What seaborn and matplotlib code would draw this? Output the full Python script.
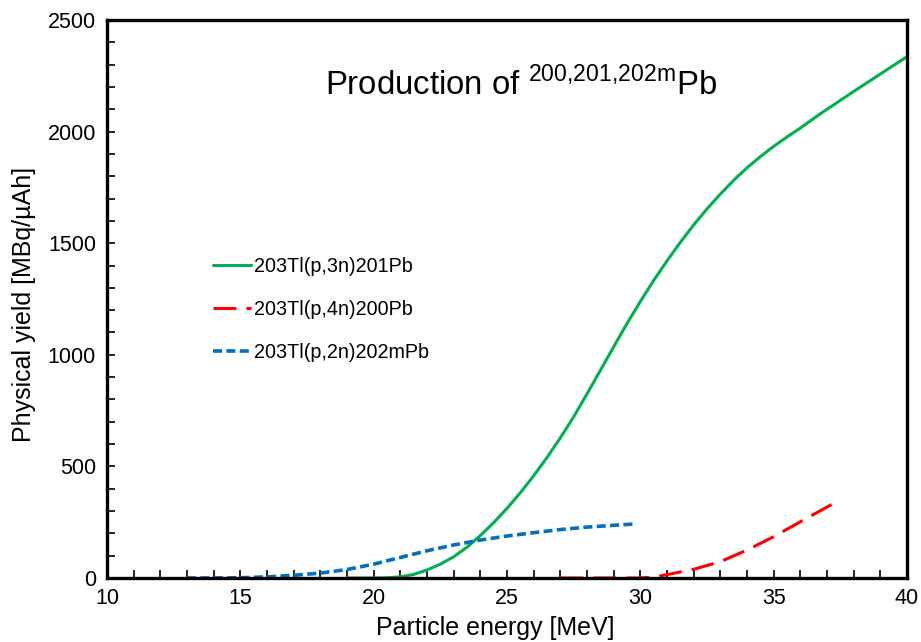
import pandas as pd
import matplotlib.pyplot as plt
import seaborn as sns

# Excitation-function yields
e_201 = [19, 19.5, 20, 20.5, 21, 21.5, 22, 22.5, 23, 23.5, 24, 24.5, 25, 25.5, 26, 26.5, 27, 27.5,
         28, 28.5, 29, 29.5, 30, 30.5, 31, 31.5, 32, 32.5, 33, 33.5, 34, 34.5, 35, 35.5, 36, 36.75,
         37, 38, 39, 40]
y_201 = [0, 0, 0, 1, 5, 16, 36, 62, 95, 138, 190, 248, 312, 382, 458, 540, 628, 722,
         825, 930, 1036, 1140, 1239, 1333, 1421, 1504, 1582, 1654, 1720, 1782, 1838, 1888, 1934, 1976, 2016, 2080,
         2100, 2180, 2258, 2336]

e_200 = [27, 28, 29, 30, 30.5, 31, 32, 33, 34, 35, 36, 37.2]
y_200 = [0, 0, 0, 0, 4, 15, 39, 73, 125, 185, 252, 331]

e_202m = [13, 14, 15, 16, 17, 18, 19, 20, 21, 22, 23, 24, 25, 26, 27, 28, 29, 29.8]
y_202m = [0, 0, 1, 5, 12, 22, 38, 62, 92, 122, 148, 170, 188, 203, 217, 228, 236, 242]

labels = ['203Tl(p,3n)201Pb', '203Tl(p,4n)200Pb', '203Tl(p,2n)202mPb']

sns.set_style("white")
plt.rcParams['font.family'] = ['Liberation Sans', 'DejaVu Sans']
plt.rcParams['mathtext.fontset'] = 'custom'
plt.rcParams['mathtext.rm'] = 'Liberation Sans'
plt.rcParams['text.color'] = 'black'
plt.rcParams['axes.labelcolor'] = 'black'

fig = plt.figure(figsize=(9.21, 6.42), dpi=100)
ax = fig.add_axes([0.1162, 0.0997, 0.8686, 0.8691])

sns.lineplot(x=e_201, y=y_201, color='#00B050', lw=2.2, label=labels[0], ax=ax)
sns.lineplot(x=e_200, y=y_200, color='#FF0000', lw=2.2, label=labels[1], ax=ax)
ax.lines[-1].set_dashes((7.5, 3.3))
sns.lineplot(x=e_202m, y=y_202m, color='#0070C0', lw=2.6, label=labels[2], ax=ax)
ax.lines[-1].set_dashes((2.5, 1.2))

ax.set_xlim(10, 40)
ax.set_ylim(0, 2500)
ax.set_xticks(range(10, 41, 5))
ax.set_yticks(range(0, 2501, 500))
ax.set_xticks(range(10, 41, 1), minor=True)
ax.set_yticks(range(0, 2501, 100), minor=True)
ax.tick_params(which='both', direction='in', length=5.5, width=1.2, top=False, right=False,
               bottom=True, left=True, labelsize=15.5, colors='black')
ax.tick_params(axis='y', which='major', pad=8)
ax.tick_params(axis='x', which='major', pad=7)
for s in ax.spines.values():
    s.set_linewidth(2.4)
    s.set_color('black')

ax.set_xlabel('Particle energy [MeV]', fontsize=18)
ax.set_ylabel('Physical yield [MBq/\u00b5Ah]', fontsize=18)
ax.xaxis.set_label_coords(0.485, -0.068)
ax.yaxis.set_label_coords(-0.089, 0.49)

ax.text(0.5175, 0.8656, r'Production of $^{\mathregular{200{,}201{,}202m}}$Pb', transform=ax.transAxes,
        fontsize=23.7, ha='center', va='baseline')

leg = ax.legend(loc='upper left', bbox_to_anchor=(0.1325, 0.575), frameon=False, fontsize=14.2,
                borderpad=0, borderaxespad=0, handlelength=1.93, handletextpad=0.15, labelspacing=1.22)
for t in leg.get_texts():
    t.set_color('black')

fig.savefig('out.png', dpi=100)
